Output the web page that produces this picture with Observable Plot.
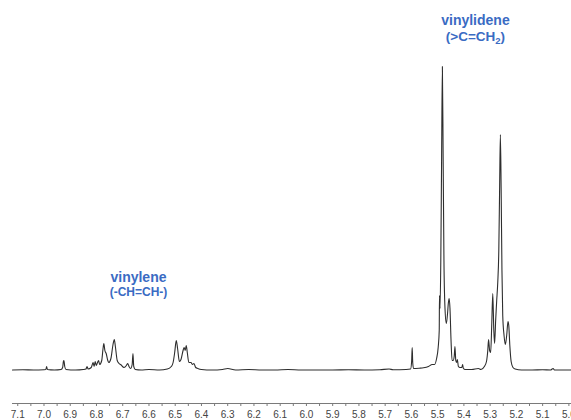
<!DOCTYPE html>
<html>
<head>
<meta charset="utf-8">
<script src="https://cdn.jsdelivr.net/npm/d3@7"></script>
<script src="https://cdn.jsdelivr.net/npm/@observablehq/plot@0.6"></script>
<style>
  html, body { margin: 0; padding: 0; background: #fff; overflow: hidden; }
</style>
</head>
<body>
<div id="chart"></div>
<script>
// Chemical shift (ppm) and relative intensity
const ppm = [
  7.12, 7.08, 7.04, 7.00, 6.993, 6.990, 6.987, 6.96, 6.935, 6.929, 6.926, 6.924, 6.921, 6.916,
  6.88, 6.85, 6.840, 6.836, 6.832, 6.82, 6.813, 6.809, 6.805, 6.801, 6.796, 6.792, 6.788,
  6.780, 6.775, 6.772, 6.768, 6.763, 6.757, 6.753, 6.745, 6.737, 6.732, 6.728, 6.721, 6.714,
  6.708, 6.695, 6.686, 6.681, 6.676, 6.670, 6.664, 6.661, 6.658, 6.652, 6.63, 6.60, 6.56,
  6.53, 6.515, 6.508, 6.502, 6.496, 6.491, 6.484, 6.478, 6.470, 6.466, 6.462, 6.458, 6.454,
  6.448, 6.440, 6.434, 6.429, 6.422, 6.414, 6.40, 6.36, 6.32, 6.30, 6.27, 6.22, 6.17, 6.12,
  6.07, 6.02, 5.96, 5.90, 5.84, 5.78, 5.72, 5.685, 5.67, 5.62, 5.603, 5.599, 5.597, 5.595,
  5.592, 5.57, 5.554, 5.535, 5.521, 5.512, 5.504, 5.498, 5.494, 5.493, 5.491, 5.488, 5.485,
  5.482, 5.479, 5.476, 5.472, 5.467, 5.463, 5.459, 5.456, 5.453, 5.449, 5.445, 5.441, 5.437,
  5.434, 5.431, 5.428, 5.425, 5.421, 5.415, 5.408, 5.405, 5.402, 5.395, 5.37, 5.345, 5.335,
  5.322, 5.314, 5.309, 5.306, 5.302, 5.298, 5.294, 5.290, 5.286, 5.283, 5.279, 5.275, 5.271,
  5.267, 5.264, 5.261, 5.258, 5.255, 5.252, 5.247, 5.242, 5.237, 5.232, 5.229, 5.225, 5.220,
  5.213, 5.205, 5.18, 5.14, 5.10, 5.07, 5.060, 5.055, 5.02, 4.99
];
const intensity = [
  0.5, 0.8, 0.5, 0.8, 1, 4, 1, 0.5, 1, 3, 9, 10, 4, 1,
  0.5, 1, 1.5, 4, 1.5, 3, 8, 4, 9, 5, 8, 10, 6,
  10, 22, 27, 20, 17, 10, 8, 12, 26, 31, 24, 10, 7,
  6, 3, 5, 7, 4, 2, 6, 17, 4, 1, 0.5, 1, 0.5,
  1.5, 4, 8, 18, 30, 22, 9, 11, 20, 23, 20, 25, 18,
  8, 8, 6, 7, 3, 2, 1, 0.5, 1, 2, 0.5, 1, 0.5, 0.5,
  1, 0.5, 0.5, 0.5, 0.8, 0.5, 0.8, 1.5, 0.8, 1, 1.5, 10, 23, 8,
  2, 2.3, 2.7, 4, 6, 6, 12, 23, 40, 75, 62, 110, 210,
  304, 210, 110, 62, 47, 55, 68, 72, 62, 30, 10, 10, 14,
  24, 10, 8, 11, 4, 3, 3, 6, 2, 1, 1, 2, 1,
  4, 9, 20, 31, 20, 18, 45, 77, 40, 27, 50, 70, 88,
  120, 180, 236, 180, 100, 55, 35, 26, 35, 49, 45, 25, 9,
  3, 1.5, 0.5, 0.5, 0.8, 0.5, 2, 0.5, 0.5, 0.5
];

// Axis ticks
const majorTicks = [7.1, 7.0, 6.9, 6.8, 6.7, 6.6, 6.5, 6.4, 6.3, 6.2, 6.1, 6.0, 5.9, 5.8, 5.7, 5.6, 5.5, 5.4, 5.3, 5.2, 5.1, 5.0];
const minorTicks = [7.05, 6.95, 6.85, 6.75, 6.65, 6.55, 6.45, 6.35, 6.25, 6.15, 6.05, 5.95, 5.85, 5.75, 5.65, 5.55, 5.45, 5.35, 5.25, 5.15, 5.05];

// Annotations
const nameText = ["vinylene", "vinylidene"];
const namePpm = [6.640, 5.356];
const nameH = [92.8, 349.5];
const formulaText = ["(-CH=CH-)", "(>C=CH2)"];
const formulaPpm = [6.640, 5.356];
const formulaH = [78.5, 334];
const formulaSize = [12, 13.5];

const spectrum = ppm.map((p, i) => ({ppm: p, h: intensity[i]}));
const blue = "#3a6bc3";

const chart = Plot.plot({
  width: 571,
  height: 420,
  marginLeft: 12,
  marginRight: 0,
  marginTop: 66,
  marginBottom: 17,
  style: {fontFamily: "'Liberation Sans', Arial, Helvetica, sans-serif", background: "#fff"},
  x: {domain: [7.12, 4.99], axis: null, label: null},
  y: {domain: [-33, 304], axis: null, label: null},
  marks: [
    Plot.ruleY([-33], {stroke: "#7a7a7a", strokeWidth: 1}),
    Plot.axisX(minorTicks, {anchor: "bottom", label: null, tickSize: 3, tickFormat: () => "", stroke: "#7a7a7a"}),
    Plot.axisX(majorTicks, {anchor: "bottom", label: null, tickSize: 3, tickPadding: 4, tickFormat: d => d.toFixed(1), fontSize: 10, fill: "#444", stroke: "#7a7a7a"}),
    Plot.line(spectrum, {x: "ppm", y: "h", stroke: "#2e2e2e", strokeWidth: 1.1, curve: "monotone-x"}),
    Plot.text(nameText, {x: (d, i) => namePpm[i], y: (d, i) => nameH[i], text: d => d, fill: blue, fontSize: 14, fontWeight: "bold", textAnchor: "middle"}),
    Plot.text([formulaText[0]], {x: () => formulaPpm[0], y: () => formulaH[0], text: d => d, fill: blue, fontSize: formulaSize[0], fontWeight: "bold", textAnchor: "middle"}),
    Plot.text([formulaText[1]], {x: () => formulaPpm[1], y: () => formulaH[1], text: d => d, fill: blue, fontSize: formulaSize[1], fontWeight: "bold", textAnchor: "middle"})
  ]
});

// subscript for CH2
d3.select(chart).selectAll("text").each(function () {
  if (this.textContent === "(>C=CH2)") {
    const t = d3.select(this);
    t.text("(>C=CH");
    t.append("tspan").attr("dy", "3").attr("font-size", "9.5").text("2");
    t.append("tspan").attr("dy", "-3").text(")");
  }
});

document.getElementById("chart").appendChild(chart);
</script>
</body>
</html>
